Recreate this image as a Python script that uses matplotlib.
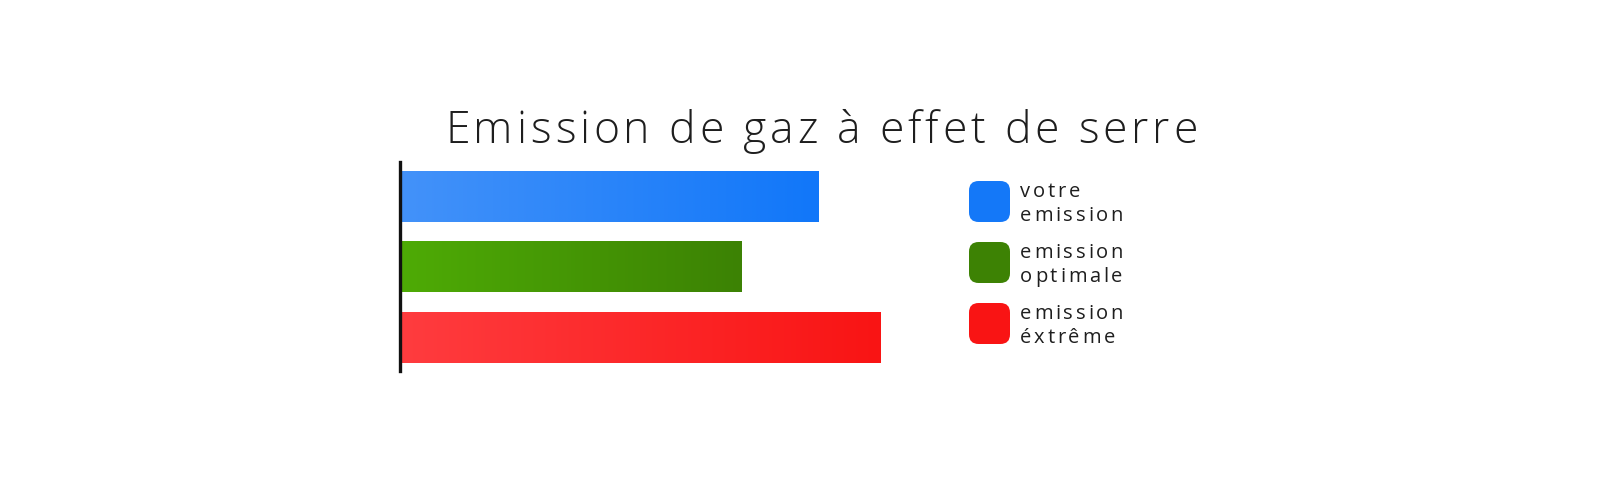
import matplotlib

matplotlib.use("Agg")
import matplotlib.pyplot as plt
import numpy as np
from matplotlib.colors import LinearSegmentedColormap
from matplotlib.font_manager import FontProperties
from matplotlib.patches import FancyBboxPatch

TITLE = "Emission de gaz à effet de serre"
LABELS = [["votre", "emission"], ["emission", "optimale"], ["emission", "éxtrême"]]
VALUES = [8.7, 7.1, 10.0]
GRADIENTS = [("#4392f9", "#1177f9"), ("#4eab06", "#3c8204"), ("#ff3c3f", "#f91414")]
LEGEND_COLORS = ["#1478f8", "#3d8204", "#f91414"]

W, H = 1600, 500
TEXT_COLOR = "#1e1e1e"

fig = plt.figure(figsize=(W / 100, H / 100), dpi=100)
renderer = fig.canvas.get_renderer()


def _width(s, prop):
    if not s:
        return 0.0
    # pad with a glyph so trailing spaces keep their advance
    w_pad = renderer.get_text_width_height_descent("l", prop, ismath=False)[0]
    return renderer.get_text_width_height_descent(s + "l", prop, ismath=False)[0] - w_pad


def spaced_text(x_px, y_px, s, prop, spacing=0.0, ha="left", color=TEXT_COLOR):
    """Draw text with letter spacing; x/y in pixels from top-left, y is the baseline."""
    offsets = [_width(s[:i], prop) + i * spacing for i in range(len(s))]
    total = _width(s, prop) + (len(s) - 1) * spacing
    if ha == "center":
        x_px -= total / 2
    for ch, off in zip(s, offsets):
        if ch == " ":
            continue
        fig.text((x_px + off) / W, 1 - y_px / H, ch, fontproperties=prop,
                 color=color, ha="left", va="baseline")


def fit_spacing(s, prop, target):
    return (target - _width(s, prop)) / (len(s) - 1)


# title
title_prop = FontProperties(family=["Open Sans", "DejaVu Sans"], weight="light", size=32)
spaced_text(821, 143, TITLE, title_prop, fit_spacing(TITLE, title_prop, 752), ha="center")

# bars
ax = fig.add_axes([400 / W, 1 - 371 / H, 481 / W, 209 / H])
ypos = np.arange(len(VALUES))
bars = ax.barh(ypos, VALUES, height=0.72, color="none")
for bar, (c0, c1) in zip(bars, GRADIENTS):
    cmap = LinearSegmentedColormap.from_list("g", [c0, c1])
    x0, y0 = bar.get_x(), bar.get_y()
    ax.imshow(np.linspace(0, 1, 256)[None, :], cmap=cmap, aspect="auto",
              extent=[x0, x0 + bar.get_width(), y0 + bar.get_height(), y0], zorder=1)
ax.set_xlim(0, max(VALUES))
ax.set_ylim(2.475, -0.49)
for side in ("top", "right", "bottom"):
    ax.spines[side].set_visible(False)
ax.spines["left"].set_linewidth(2.4)
ax.spines["left"].set_color("#111111")
ax.spines["left"].set_zorder(3)
ax.set_xticks([])
ax.set_yticks([])

# legend
legend_prop = FontProperties(family=["Open Sans", "DejaVu Sans"], size=14.5)
legend_spacing = fit_spacing("emission", legend_prop, 103)
for i, (lines, color) in enumerate(zip(LABELS, LEGEND_COLORS)):
    top = 181 + 61 * i
    box = FancyBboxPatch((969 / W, 1 - (top + 41) / H), 41 / W, 41 / H,
                         boxstyle="round,pad=0,rounding_size=0.006",
                         transform=fig.transFigure, facecolor=color, edgecolor="none",
                         mutation_aspect=W / H)
    fig.patches.append(box)
    for j, line in enumerate(lines):
        spaced_text(1020, top + 16 + 24 * j, line, legend_prop, legend_spacing)

fig.savefig("out.png", dpi=100, facecolor="white")
